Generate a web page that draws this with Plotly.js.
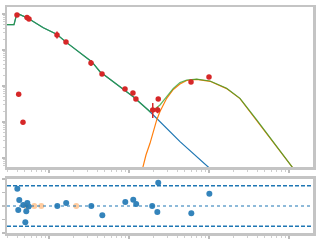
<!DOCTYPE html>
<html><head><meta charset="utf-8">
<script src="https://cdn.plot.ly/plotly-3.0.1.min.js"></script>
<style>html,body{margin:0;padding:0;background:#fff}#chart{width:320px;height:240px}</style>
</head><body><div id="chart"></div>
<script>
// Observed fluxes
const obsX = [0.398, 0.531, 0.562, 1.259, 1.63, 3.35, 4.6, 8.91, 11.2, 12.2, 19.8, 22.8, 23.2, 59.6, 100, 0.418, 0.473];
const obsY = [938, 800, 726, 261, 167, 43.5, 21.5, 8.26, 6.39, 4.35, 2.15, 2.15, 4.35, 12.9, 17.8, 5.88, 0.98];
const obsErrPlus = [94, 80, 73, 65, 17, 9.2, 2.2, 0.8, 0.6, 0.4, 1.21, 0.5, 0.4, 1.3, 1.8, 0.6, 0.1];
const obsErrMinus = [86, 74, 67, 52, 15, 7.6, 2.0, 0.8, 0.6, 0.4, 0.86, 0.4, 0.4, 1.2, 1.6, 0.5, 0.09];

// Model components
const blueX = [0.299, 0.365, 0.395, 0.434, 0.546, 0.849, 1.248, 1.664, 3.42, 4.34, 11.3, 17.4, 43.4, 100, 137];
const blueY = [505, 505, 1000, 957, 760, 416, 273, 160, 47.3, 24.9, 5.05, 2.15, 0.284, 0.0538, 0.0245];

const orangeX = [14.8, 16.3, 18.3, 22.2, 24.4, 29.6, 35.8, 43.4, 52.6, 70.2, 103, 166, 244, 395, 1112];
const orangeY = [0.0518, 0.121, 0.256, 1.14, 1.96, 4.55, 8.0, 11.4, 14.2, 15.3, 13.5, 8.47, 4.47, 1.11, 0.0538];

const greenX = [0.299, 0.365, 0.395, 0.434, 0.546, 0.849, 1.248, 1.664, 3.42, 4.34, 11.3, 17.4, 18.3, 21.1, 24.4, 29.6, 35.8, 43.4, 52.6, 70.2, 103, 166, 244, 395, 1112];
const greenY = [505, 505, 1000, 957, 760, 416, 273, 160, 47.3, 24.9, 5.05, 2.15, 1.93, 2.30, 2.97, 5.05, 8.63, 12.4, 14.7, 15.6, 13.8, 8.63, 4.55, 1.14, 0.0538];

// Residuals
const resX = [0.402, 0.413, 0.425, 0.477, 0.506, 0.520, 0.536, 0.557, 1.27, 1.64, 3.38, 4.64, 8.99, 11.3, 12.3, 19.5, 22.6, 23.2, 60.1, 101];
const resY = [1.28, -0.30, 0.45, 0.08, -1.20, -0.38, 0.23, -0.03, 0, 0.23, 0, -0.68, 0.30, 0.47, 0.15, 0, -0.45, 1.73, -0.53, 0.90];
const limX = [0.520, 0.655, 0.801, 2.19];
const limY = [0, 0, 0, 0];
const bandLevels = [-1.5, 1.5];
const zeroLevel = [0];

const spine = '#c4c4c4';
const tickC = '#bdbdbd';
const minorC = '#cfcfcf';
const red = '#d62728', blue = '#1f77b4', orange = '#ff7f0e', green = '#2ca02c';

const traces = [
  {x: blueX, y: blueY, mode: 'lines', line: {color: blue, width: 1.2}, xaxis: 'x', yaxis: 'y', hoverinfo: 'skip'},
  {x: orangeX, y: orangeY, mode: 'lines', line: {color: orange, width: 1.2}, xaxis: 'x', yaxis: 'y', hoverinfo: 'skip'},
  {x: greenX, y: greenY, mode: 'lines', line: {color: green, width: 1.2}, opacity: 0.75, xaxis: 'x', yaxis: 'y', hoverinfo: 'skip'},
  {x: obsX, y: obsY, mode: 'markers', marker: {color: red, size: 5.5},
   error_y: {type: 'data', symmetric: false, array: obsErrPlus, arrayminus: obsErrMinus, color: red, thickness: 1.5, width: 0},
   xaxis: 'x', yaxis: 'y'},
  {x: limX, y: limY, mode: 'markers', marker: {color: orange, size: 6}, opacity: 0.4, xaxis: 'x2', yaxis: 'y2'},
  {x: resX, y: resY, mode: 'markers', marker: {color: blue, size: 6}, opacity: 0.9, xaxis: 'x2', yaxis: 'y2'}
];

const shapes = [];
bandLevels.forEach(v => shapes.push({type: 'line', xref: 'x2 domain', yref: 'y2', x0: 0, x1: 1, y0: v, y1: v, line: {color: blue, width: 1.5, dash: '4px,2px'}}));
zeroLevel.forEach(v => shapes.push({type: 'line', xref: 'x2 domain', yref: 'y2', x0: 0, x1: 1, y0: v, y1: v, line: {color: blue, width: 1.2, dash: 'dot'}}));

const logX = {type: 'log', range: [-0.525, 3.3], showline: true, mirror: true, linecolor: spine, linewidth: 2.5,
  ticks: 'outside', ticklen: 3, tickwidth: 1.5, tickcolor: tickC, dtick: 1, showticklabels: false, showgrid: false, zeroline: false,
  minor: {ticks: 'outside', ticklen: 2, tickwidth: 1, tickcolor: minorC, dtick: 'D1', showgrid: false}};

const layout = {
  width: 320, height: 240, margin: {l: 7, r: 7, t: 7, b: 7},
  paper_bgcolor: '#fff', plot_bgcolor: '#fff', showlegend: false,
  xaxis: Object.assign({}, logX, {anchor: 'y', domain: [0, 1]}),
  yaxis: {type: 'log', range: [-1.25, 3.194], domain: [0.292, 1], anchor: 'x', showline: true, mirror: true, linecolor: spine, linewidth: 2.5,
    ticks: 'outside', ticklen: 3, tickwidth: 1.5, tickcolor: tickC, dtick: 1, showticklabels: false, showgrid: false, zeroline: false,
    minor: {ticks: 'outside', ticklen: 2, tickwidth: 1, tickcolor: minorC, dtick: 'D1', showgrid: false}},
  xaxis2: Object.assign({}, logX, {anchor: 'y2', domain: [0, 1], matches: 'x'}),
  yaxis2: {range: [-2, 2], domain: [0, 0.239], anchor: 'x2', showline: true, mirror: true, linecolor: spine, linewidth: 2.5,
    ticks: 'outside', ticklen: 3, tickwidth: 1.5, tickcolor: tickC, dtick: 1, showticklabels: false, showgrid: false, zeroline: false},
  shapes: shapes
};

Plotly.newPlot('chart', traces, layout, {staticPlot: true, displayModeBar: false});
</script>
</body></html>
